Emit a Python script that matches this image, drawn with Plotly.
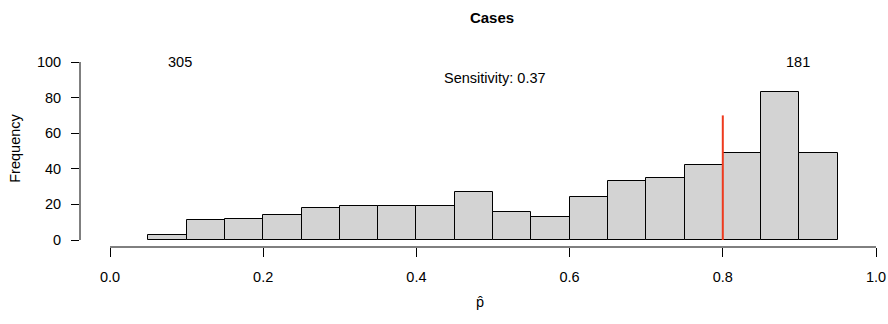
import plotly.graph_objects as go

# Histogram of predicted probabilities for cases (bin width 0.05)
bin_left = [0.05, 0.10, 0.15, 0.20, 0.25, 0.30, 0.35, 0.40, 0.45,
            0.50, 0.55, 0.60, 0.65, 0.70, 0.75, 0.80, 0.85, 0.90]
counts = [3, 11, 12, 14, 18, 19, 19, 19, 27, 16, 13, 24, 33, 35, 42, 49, 83, 49]
bin_width = 0.05
threshold = 0.8
threshold_line_top = 70
x_ticks = [0.0, 0.2, 0.4, 0.6, 0.8, 1.0]
y_ticks = [0, 20, 40, 60, 80, 100]

below = sum(c for l, c in zip(bin_left, counts) if l < threshold - 1e-9)
above = sum(c for l, c in zip(bin_left, counts) if l >= threshold - 1e-9)
sensitivity = above / (below + above)

FONT = "Liberation Sans, Arial, Helvetica, sans-serif"
FS = 14.5

fig = go.Figure()
fig.add_trace(go.Bar(
    x=[l + bin_width / 2 for l in bin_left],
    y=counts,
    width=bin_width,
    marker=dict(color="#D3D3D3", line=dict(color="black", width=1)),
    showlegend=False,
    hoverinfo="x+y",
))

# cutoff line
fig.add_trace(go.Scatter(
    x=[threshold, threshold], y=[0, threshold_line_top],
    mode="lines", line=dict(color="#EE3A1E", width=2),
    showlegend=False, hoverinfo="skip",
))

# R-style detached axis lines
fig.add_shape(type="line", xref="x", yref="paper",
              x0=x_ticks[0], x1=x_ticks[-1], y0=0, y1=0,
              line=dict(color="black", width=1))
fig.add_shape(type="line", xref="paper", yref="y",
              x0=0, x1=0, y0=y_ticks[0], y1=y_ticks[-1],
              line=dict(color="black", width=1))

fig.add_annotation(x=0.091, y=100, text=str(below), showarrow=False,
                   xanchor="center", yanchor="middle",
                   font=dict(size=FS, color="black", family=FONT))
fig.add_annotation(x=0.898, y=100, text=str(above), showarrow=False,
                   xanchor="center", yanchor="middle",
                   font=dict(size=FS, color="black", family=FONT))
fig.add_annotation(x=0.503, y=91, text=f"Sensitivity: {sensitivity:.2f}",
                   showarrow=False, xanchor="center", yanchor="middle",
                   font=dict(size=FS, color="black", family=FONT))

fig.update_layout(
    width=888, height=324,
    margin=dict(l=80, r=8, t=50, b=77),
    paper_bgcolor="white", plot_bgcolor="white",
    font=dict(family=FONT, size=FS, color="black"),
    title=dict(text="<b>Cases</b>", x=492 / 888, xanchor="center",
               y=1 - 18 / 324, yanchor="middle",
               font=dict(size=15, family=FONT, color="black")),
    bargap=0,
    xaxis=dict(
        range=[-30 / 766, 1 + 4 / 766],
        automargin=False,
        tickmode="array", tickvals=x_ticks,
        ticktext=[f"{v:.1f}" for v in x_ticks],
        ticks="outside", ticklen=9, tickcolor="black", tickwidth=1,
        ticklabelstandoff=8,
        showgrid=False, zeroline=False, showline=False,
        tickfont=dict(size=FS, family=FONT),
        title=dict(text="p\u0302", standoff=12, font=dict(size=FS, family=FONT)),
    ),
    yaxis=dict(
        range=[-7 / 1.78, 190 / 1.78],
        automargin=False,
        tickmode="array", tickvals=y_ticks,
        ticks="outside", ticklen=8, tickcolor="black", tickwidth=1,
        ticklabelstandoff=7,
        showgrid=False, zeroline=False, showline=False,
        tickfont=dict(size=FS, family=FONT),
        title=dict(text="Frequency", standoff=12, font=dict(size=FS, family=FONT)),
    ),
)

fig.write_html("out.html")
